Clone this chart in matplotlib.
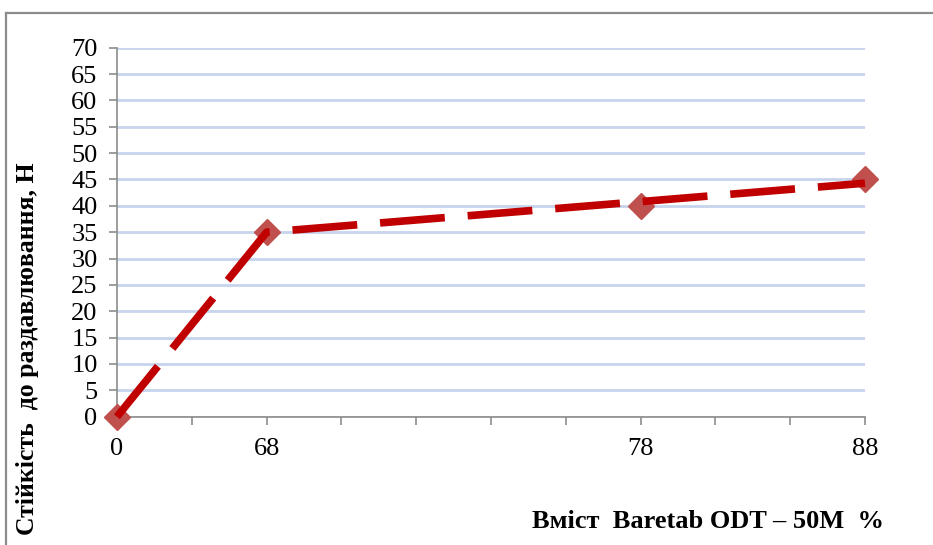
import matplotlib.pyplot as plt
from matplotlib.lines import Line2D

# Baretab ODT - 50M content, %, and its place on the category axis
content_labels = ["0", "68", "78", "88"]
content_pos = [0, 2, 7, 10]

# measured crushing strength, N (markers)
strength = [0, 35, 40, 45]
# dashed curve through the measurements
strength_line = [0, 35, 40.8, 44.3]

y_ticks = list(range(0, 75, 5))

plt.rcParams['font.family'] = ['Liberation Serif', 'DejaVu Serif']

fig = plt.figure(figsize=(9.33, 5.45), dpi=100)
ax = fig.add_axes([0.1254, 0.2354, 0.8017, 0.6771])

ax.plot(content_pos, strength, linestyle='none', marker='D', markersize=13,
        color='#c0504d', zorder=3, clip_on=False)
ax.plot(content_pos, strength_line, color='#c00000', linewidth=5.5,
        dashes=(8.5, 3.0), dash_capstyle='butt', zorder=4, clip_on=False)

ax.set_xlim(0, 10)
ax.set_ylim(0, 70)
ax.set_yticks(y_ticks)
ax.set_xticks(range(0, 11))
ax.set_xticklabels([content_labels[content_pos.index(i)] if i in content_pos else ""
                    for i in range(0, 11)])

ax.grid(axis='y', color='#c6d4ed', linewidth=2)
ax.set_axisbelow(True)
for side in ['top', 'right']:
    ax.spines[side].set_visible(False)
for side in ['left', 'bottom']:
    ax.spines[side].set_color('#8c8c8c')
    ax.spines[side].set_linewidth(1.2)
ax.tick_params(axis='both', direction='out', length=6, width=1.2,
               color='#8c8c8c', labelsize=19, pad=8)
ax.tick_params(axis='x', pad=9)

fig.text(0.948, 0.022, "Вміст  Baretab ODT – 50M  %", ha='right', va='bottom',
         fontsize=19, fontweight='bold')
fig.text(0.030, 0.36, "Стійкість  до раздавлювання, Н", rotation=90,
         ha='center', va='center', fontsize=18.5, fontweight='bold')

# outer frame of the chart area
fig.add_artist(Line2D([0.006, 1.0], [0.976, 0.976], color='#8c8c8c', linewidth=1.6))
fig.add_artist(Line2D([0.006, 0.006], [0.0, 0.976], color='#8c8c8c', linewidth=1.6))

fig.savefig('out.png', dpi=100)
